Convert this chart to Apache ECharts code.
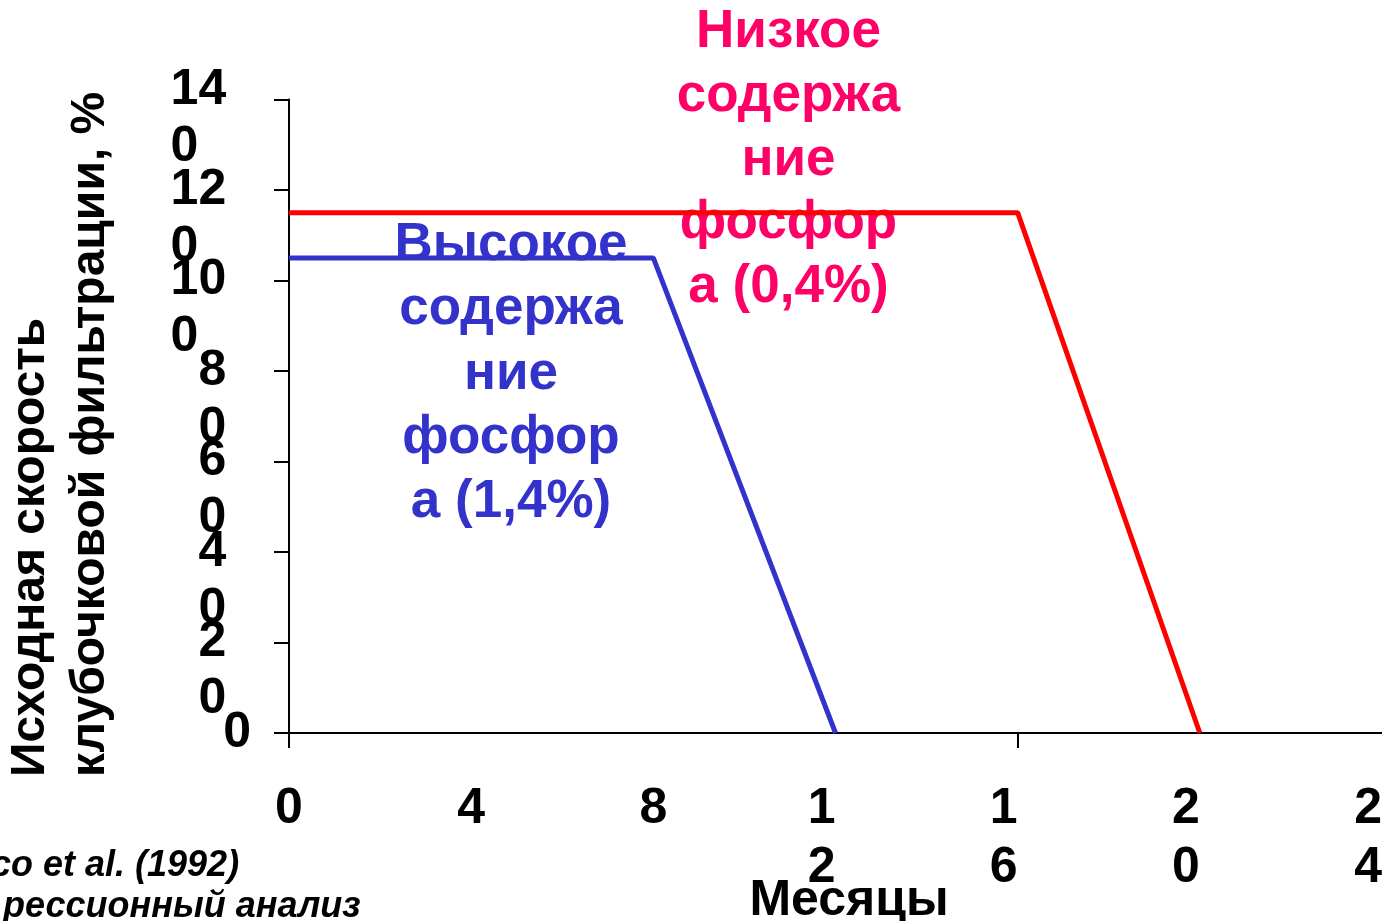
<!DOCTYPE html>
<html><head><meta charset="utf-8">
<script src="https://cdn.jsdelivr.net/npm/echarts@6/dist/echarts.min.js"></script>
<style>html,body{margin:0;padding:0;background:#fff}#c{width:1382px;height:921px}</style>
</head><body><div id="c"></div>
<script>
// --- data ---
const monthTicks = [0, 4, 8, 12, 16, 20, 24];      // x tick labels
const monthTickMarks = [0, 16];                    // x tick marks drawn
const gfrTicks = [0, 20, 40, 60, 80, 100, 120, 140]; // y tick labels
const highMonths = [0, 8, 12];
const highGfr = [105, 105, 0];
const lowMonths = [0, 16, 20];
const lowGfr = [115, 115, 0];
const highLabel = 'Высокое\nсодержа\nние\nфосфор\nа (1,4%)';
const lowLabel = 'Низкое\nсодержа\nние\nфосфор\nа (0,4%)';
const yTitle = 'Исходная скорость\nклубочковой фильтрации, %';
const xTitle = 'Месяцы';
const note1 = 'co et al. (1992)';
const note2 = 'рессионный анализ';

const FF = '"Liberation Sans", Arial, sans-serif';
const pair = (xs, ys) => xs.map((x, i) => [x, ys[i]]);

// y tick labels wrap: last digit goes on a second line, drawn by a twin axis
const Y_MAX = gfrTicks[gfrTicks.length - 1];
const unitsPerPx = Y_MAX / 633.5;
const wrapDrop = 57 * unitsPerPx;      // second line sits ~57px below the tick
const topDrop = 48 * unitsPerPx;       // the topmost label is nudged up
const wrapped = gfrTicks.filter(v => String(v).length > 1);
const secondLinePos = wrapped.map(v => v === Y_MAX ? v - topDrop : v - wrapDrop);
const secondLineSrc = {};
secondLinePos.forEach((p, i) => { secondLineSrc[p.toFixed(4)] = wrapped[i]; });

const chart = echarts.init(document.getElementById('c'));
const dig = {fontSize: 50, fontWeight: 'bold', fontFamily: FF, color: '#000', lineHeight: 52};
const D = 27.8; // digit advance at 50px
chart.setOption({
  animation: false,
  backgroundColor: '#fff',
  grid: {left: 289, right: 0, top: 99.5, bottom: 188, containLabel: false, outerBoundsMode: 'none'},
  xAxis: {
    type: 'value', min: 0, max: 24, interval: 4,
    axisLine: {show: true, onZero: false, lineStyle: {color: '#000', width: 2}},
    axisTick: {show: true, length: 15, customValues: monthTickMarks, lineStyle: {color: '#000', width: 2}},
    splitLine: {show: false},
    axisLabel: {
      customValues: monthTicks,
      showMinLabel: true, showMaxLabel: true, hideOverlap: false,
      margin: 47,
      formatter: function (v) {
        const s = String(v);
        if (s.length === 1) return '{z|' + s + '}';
        return '{a|' + s[0] + '}{sp| }\n{b|' + s[1] + '}';
      },
      rich: {
        z: Object.assign({}, dig, {lineHeight: 59}),
        a: Object.assign({}, dig, {lineHeight: 59, align: 'left'}),
        b: Object.assign({}, dig, {lineHeight: 59, align: 'left'}),
        sp: Object.assign({}, dig, {lineHeight: 59, width: D, align: 'left'})
      }
    }
  },
  yAxis: [{
    type: 'value', min: 0, max: Y_MAX, interval: 20,
    axisLine: {show: true, lineStyle: {color: '#000', width: 2}},
    axisTick: {show: true, length: 15, lineStyle: {color: '#000', width: 2}},
    splitLine: {show: false},
    axisLabel: {
      customValues: gfrTicks,
      showMinLabel: true, showMaxLabel: true, hideOverlap: false,
      margin: 35,
      formatter: function (v) {
        const s = String(v);
        if (s.length === 1) return '{z|' + s + '}';
        return '{' + (v === Y_MAX ? 'top' : 'a') + '|' + s.slice(0, -1) + '}{sp| }';
      },
      rich: {
        z: Object.assign({}, dig, {padding: [0, 3, 0, 0]}),
        a: Object.assign({}, dig),
        top: Object.assign({}, dig, {padding: [0, 0, 19, 0]}),
        sp: Object.assign({}, dig, {width: D})
      }
    }
  }, {
    type: 'value', min: 0, max: Y_MAX, interval: 20, position: 'left', offset: 0,
    axisLine: {show: false}, axisTick: {show: false}, splitLine: {show: false},
    axisLabel: {
      customValues: secondLinePos,
      showMinLabel: true, showMaxLabel: true, hideOverlap: false,
      margin: 35,
      formatter: function (v) {
        let src = secondLineSrc[Number(v).toFixed(4)];
        if (src == null) {
          let best = null, bd = 1e9;
          secondLinePos.forEach((p, i) => { const d = Math.abs(p - v); if (d < bd) { bd = d; best = wrapped[i]; } });
          src = best;
        }
        const s = String(src);
        return '{b|' + s.slice(-1) + '}{' + (s.length === 3 ? 'sp2' : 'sp1') + '| }';
      },
      rich: {
        b: Object.assign({}, dig),
        sp1: Object.assign({}, dig, {width: D}),
        sp2: Object.assign({}, dig, {width: 2 * D})
      }
    }
  }],
  series: [
    {type: 'line', data: pair(highMonths, highGfr), symbol: 'none', z: 3,
     lineStyle: {color: '#3333CC', width: 5}},
    {type: 'line', data: pair(lowMonths, lowGfr), symbol: 'none', z: 3,
     lineStyle: {color: '#FF0000', width: 5}}
  ],
  graphic: [
    {type: 'text', x: 511, y: 374, z: 1, style: {text: highLabel, fill: '#3333CC', font: 'bold 53px ' + FF,
      align: 'center', verticalAlign: 'middle', lineHeight: 64.25}},
    {type: 'text', x: 788.5, y: 160, z: 1, style: {text: lowLabel, fill: '#FF0066', font: 'bold 53px ' + FF,
      align: 'center', verticalAlign: 'middle', lineHeight: 63.75}},
    {type: 'text', x: 61, y: 777, rotation: Math.PI / 2, style: {text: yTitle, fill: '#000', font: 'bold 48px ' + FF,
      align: 'left', verticalAlign: 'middle', lineHeight: 60}},
    {type: 'text', x: 849, y: 901, style: {text: xTitle, fill: '#000', font: 'bold 50px ' + FF,
      align: 'center', verticalAlign: 'middle'}},
    {type: 'text', x: -9, y: 866.5, style: {text: note1, fill: '#000', font: 'italic bold 36px ' + FF,
      align: 'left', verticalAlign: 'middle'}},
    {type: 'text', x: 3, y: 907.5, style: {text: note2, fill: '#000', font: 'italic bold 36px ' + FF,
      align: 'left', verticalAlign: 'middle'}}
  ]
});
</script></body></html>
